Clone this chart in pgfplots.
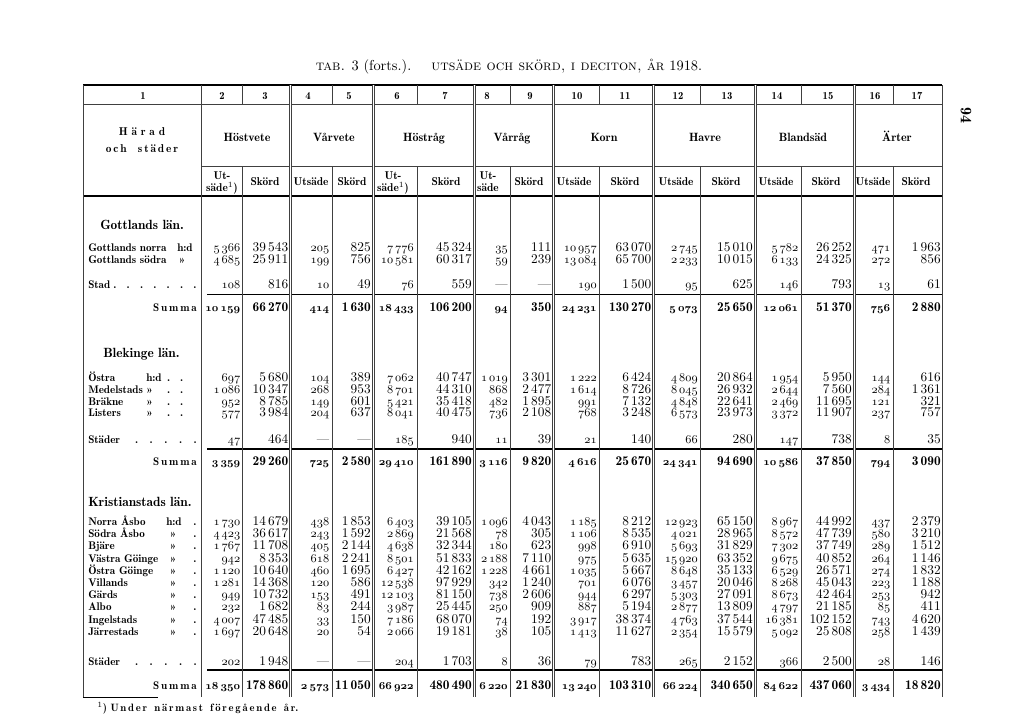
\documentclass[border=0pt]{standalone}
\usepackage{pgfplots}
\pgfplotsset{compat=1.18}
\usepackage{pgfplotstable}

% dotted leaders: total width, dot spacing
\newcommand\dts[2]{\hbox to #1{\leaders\hbox to #2{\hss.\hss}\hfill}}
\def\dashcell{—}
% old style figures in the current series, but keep the dash
\newcommand\myos[1]{{\fontencoding{OML}\fontfamily{cmm}\fontshape{it}\selectfont #1}}
\newcommand\osn{\begingroup\let\,\relax\edef\tmp{\pgfplotspointmeta}%
  \ifx\tmp\dashcell\endgroup—\else\endgroup\myos{\pgfplotspointmeta}\fi}

% y (baseline, px), then columns 2..17
\pgfplotstableread[col sep=comma]{
y,c2,c3,c4,c5,c6,c7,c8,c9,c10,c11,c12,c13,c14,c15,c16,c17
251.5,5\,366,39\,543,205,825,7\,776,45\,324,35,111,10\,957,63\,070,2\,745,15\,010,5\,782,26\,252,471,1\,963
263.5,4\,685,25\,911,199,756,10\,581,60\,317,59,239,13\,084,65\,700,2\,233,10\,015,6\,133,24\,325,272,856
288.5,108,816,10,49,76,559,—,—,190,1\,500,95,625,146,793,13,61
381.5,697,5\,680,104,389,7\,062,40\,747,1\,019,3\,301,1\,222,6\,424,4\,809,20\,864,1\,954,5\,950,144,616
393.5,1\,086,10\,347,268,953,8\,701,44\,310,868,2\,477,1\,614,8\,726,8\,045,26\,932,2\,644,7\,560,284,1\,361
405,952,8\,785,149,601,5\,421,35\,418,482,1\,895,991,7\,132,4\,848,22\,641,2\,469,11\,695,121,321
416.5,577,3\,984,204,637,8\,041,40\,475,736,2\,108,768,3\,248,6\,573,23\,973,3\,372,11\,907,237,757
443.5,47,464,—,—,185,940,11,39,21,140,66,280,147,738,8,35
525.5,1\,730,14\,679,438,1\,853,6\,403,39\,105,1\,096,4\,043,1\,185,8\,212,12\,923,65\,150,8\,967,44\,992,437,2\,379
537.7,4\,423,36\,617,243,1\,592,2\,869,21\,568,78,305,1\,106,8\,535,4\,021,28\,965,8\,572,47\,739,580,3\,210
549.9,1\,767,11\,708,405,2\,144,4\,638,32\,344,180,623,998,6\,910,5\,693,31\,829,7\,302,37\,749,289,1\,512
562.1,942,8\,353,618,2\,241,8\,501,51\,833,2\,188,7\,110,975,5\,635,15\,920,63\,352,9\,675,40\,852,264,1\,146
574.3,1\,120,10\,640,460,1\,695,6\,427,42\,162,1\,228,4\,661,1\,035,5\,667,8\,648,35\,133,6\,529,26\,571,274,1\,832
586.5,1\,281,14\,368,120,586,12\,538,97\,929,342,1\,240,701,6\,076,3\,457,20\,046,8\,268,45\,043,223,1\,188
598.7,949,10\,732,153,491,12\,103,81\,150,738,2\,606,944,6\,297,5\,303,27\,091,8\,673,42\,464,253,942
610.9,232,1\,682,83,244,3\,987,25\,445,250,909,887,5\,194,2\,877,13\,809,4\,797,21\,185,85,411
623.1,4\,007,47\,485,33,150,7\,186,68\,070,74,192,3\,917,38\,374,4\,763,37\,544,16\,381,102\,152,743,4\,620
635.3,1\,697,20\,648,20,54,2\,066,19\,181,38,105,1\,413,11\,627,2\,354,15\,579,5\,092,25\,808,258,1\,439
665,202,1\,948,—,—,204,1\,703,8,36,79,783,265,2\,152,366,2\,500,28,146
}\rows

\pgfplotstableread[col sep=comma]{
y,c2,c3,c4,c5,c6,c7,c8,c9,c10,c11,c12,c13,c14,c15,c16,c17
311,10\,159,66\,270,414,1\,630,18\,433,106\,200,94,350,24\,231,130\,270,5\,073,25\,650,12\,061,51\,370,756,2\,880
465,3\,359,29\,260,725,2\,580,29\,410,161\,890,3\,116,9\,820,4\,616,25\,670,24\,341,94\,690,10\,586,37\,850,794,3\,090
689,18\,350,178\,860,2\,573,11\,050,66\,922,480\,490,6\,220,21\,830,13\,240,103\,310,66\,224,340\,650,84\,622,437\,060,3\,434,18\,820
}\summa

\pgfplotsset{
  cell/.style={draw=none, mark=none, point meta=explicit symbolic},
  lin/.style={cell, nodes near coords={\pgfplotspointmeta},
    every node near coord/.append style={anchor=base east, inner sep=0pt, text=black,
      font=\fontsize{10}{11}\selectfont}},
  linb/.style={cell, nodes near coords={\pgfplotspointmeta},
    every node near coord/.append style={anchor=base east, inner sep=0pt, text=black,
      font=\fontsize{10}{11}\fontseries{b}\selectfont}},
  osf/.style={cell, nodes near coords={\osn},
    every node near coord/.append style={anchor=base east, inner sep=0pt, text=black,
      font=\fontsize{9}{10}\selectfont}},
  osfb/.style={cell, nodes near coords={\osn},
    every node near coord/.append style={anchor=base east, inner sep=0pt, text=black,
      font=\fontsize{8}{10}\fontseries{b}\selectfont}},
}
\newcommand\lcol[2]{%
  \addplot[lin] table[x expr=#2, y=y, meta=#1] {\rows};
  \addplot[linb] table[x expr=#2, y=y, meta=#1] {\summa};}
\newcommand\ocol[2]{%
  \addplot[osf] table[x expr=#2, y=y, meta=#1] {\rows};
  \addplot[osfb] table[x expr=#2, y=y, meta=#1] {\summa};}

\tikzset{
  lab/.style={anchor=base west, inner sep=0pt, font=\fontsize{8.3}{9}\fontseries{b}\selectfont},
  hd/.style={anchor=base, inner sep=0pt, font=\fontsize{8.5}{9.5}\fontseries{b}\selectfont},
  grp/.style={anchor=base, inner sep=0pt, font=\fontsize{9}{10}\fontseries{b}\selectfont},
  num/.style={anchor=base, inner sep=0pt, font=\fontsize{8}{9}\fontseries{b}\selectfont},
  vl/.style={black!75, line width=0.45pt},
  dl/.style={black!75, double, double distance=1.1pt, line width=0.4pt},
}

\begin{document}
\begin{tikzpicture}
\begin{axis}[
  width=767.25pt, height=536.25pt, scale only axis,
  xmin=0, xmax=1023, ymin=0, ymax=715, y dir=reverse,
  hide axis, clip=false,
]
\fill[white] (axis cs:0,0) rectangle (axis cs:1023,715);

% title and page number
\node[anchor=base, font=\fontsize{10.8}{12}\selectfont] at (axis cs:509,70)
  {\textsc{tab.} 3 (forts.).\hspace{1.4em}\textsc{utsäde och skörd, i deciton, år} 1918.};
\node[rotate=-90, font=\fontsize{12}{12}\fontseries{b}\selectfont] at (axis cs:966,115) {94};

% rules
\draw[line width=1.6pt] (axis cs:83,85) -- (axis cs:942,85);
\draw[vl] (axis cs:83,104) -- (axis cs:942,104);
\draw[vl] (axis cs:201,166) -- (axis cs:942,166);
\draw[line width=1.4pt] (axis cs:83,196) -- (axis cs:942,196);
\pgfplotsinvokeforeach{294.5,449,670}{\draw[line width=1.2pt] (axis cs:207,#1) -- (axis cs:942,#1);}
\pgfplotsinvokeforeach{83,201,942}{\draw[vl] (axis cs:#1,85) -- (axis cs:#1,697);}
\pgfplotsinvokeforeach{242.5,332,417,510,599,700,801,893}{%
  \draw[vl] (axis cs:#1,85) -- (axis cs:#1,104);
  \draw[vl] (axis cs:#1,166) -- (axis cs:#1,697);}
\pgfplotsinvokeforeach{290.5,373.5,474.5,553.5,653.5,755.5,854.5}{\draw[dl] (axis cs:#1,85) -- (axis cs:#1,697);}
\draw[line width=0.5pt] (axis cs:83,697) -- (axis cs:158,697);

% column numbers
\node[num] at (axis cs:143,99) {1};
\node[num] at (axis cs:222,99) {2};
\node[num] at (axis cs:265,99) {3};
\node[num] at (axis cs:308,99) {4};
\node[num] at (axis cs:349,99) {5};
\node[num] at (axis cs:397,99) {6};
\node[num] at (axis cs:445,99) {7};
\node[num] at (axis cs:487,99) {8};
\node[num] at (axis cs:530,99) {9};
\node[num] at (axis cs:577,99) {10};
\node[num] at (axis cs:625,99) {11};
\node[num] at (axis cs:678,99) {12};
\node[num] at (axis cs:727,99) {13};
\node[num] at (axis cs:777,99) {14};
\node[num] at (axis cs:828,99) {15};
\node[num] at (axis cs:875,99) {16};
\node[num] at (axis cs:917,99) {17};

% group heads
\node[font=\fontsize{8.5}{13}\fontseries{b}\selectfont, align=center, inner sep=0pt] at (axis cs:142,140)
  {H\,\,ä\,\,r\,\,a\,\,d\\o\,c\,h\quad s\,t\,ä\,d\,e\,r};
\node[grp] at (axis cs:247,141) {Höstvete};
\node[grp] at (axis cs:334,141) {Vårvete};
\node[grp] at (axis cs:424,141) {Höstråg};
\node[grp] at (axis cs:512,141) {Vårråg};
\node[grp] at (axis cs:604,141) {Korn};
\node[grp] at (axis cs:705,141) {Havre};
\node[grp] at (axis cs:803,141) {Blandsäd};
\node[grp] at (axis cs:897,141) {Ärter};

% sub heads
\node[hd] at (axis cs:222,179) {Ut-};
\node[hd] at (axis cs:222,191) {säde$^{1}$)};
\node[hd] at (axis cs:265,185) {Skörd};
\node[hd] at (axis cs:311,185) {Utsäde};
\node[hd] at (axis cs:352,185) {Skörd};
\node[hd] at (axis cs:393,179) {Ut-};
\node[hd] at (axis cs:393,191) {säde$^{1}$)};
\node[hd] at (axis cs:446,185) {Skörd};
\node[hd] at (axis cs:488,179) {Ut-};
\node[hd] at (axis cs:488,191) {säde};
\node[hd] at (axis cs:529,185) {Skörd};
\node[hd] at (axis cs:574,185) {Utsäde};
\node[hd] at (axis cs:625,185) {Skörd};
\node[hd] at (axis cs:676,185) {Utsäde};
\node[hd] at (axis cs:726,185) {Skörd};
\node[hd] at (axis cs:776,185) {Utsäde};
\node[hd] at (axis cs:826,185) {Skörd};
\node[hd] at (axis cs:873,185) {Utsäde};
\node[hd] at (axis cs:916,185) {Skörd};

% section heads
\node[lab, font=\fontsize{10}{12}\fontseries{b}\selectfont] at (axis cs:100,229) {Gottlands län.};
\node[lab, font=\fontsize{10}{12}\fontseries{b}\selectfont] at (axis cs:103,357) {Blekinge län.};
\node[lab, font=\fontsize{10}{12}\fontseries{b}\selectfont] at (axis cs:88,506) {Kristianstads län.};

% row labels
\node[lab] at (axis cs:88,251.5) {\makebox[66.75pt][l]{Gottlands norra}h:d};
\node[lab] at (axis cs:88,263.5) {\makebox[68pt][l]{Gottlands södra}»};
\node[lab] at (axis cs:88,288.5) {\makebox[15pt][l]{Stad}\dts{70pt}{10pt}};
\node[lab] at (axis cs:88,381.5) {\makebox[43.5pt][l]{Östra}\makebox[12pt][l]{h:d}\dts{29pt}{9.67pt}};
\node[lab] at (axis cs:88,393.5) {\makebox[43.5pt][l]{Medelstads}\makebox[12pt][l]{»}\dts{29pt}{9.67pt}};
\node[lab] at (axis cs:88,405) {\makebox[43.5pt][l]{Bräkne}\makebox[12pt][l]{»}\dts{29pt}{9.67pt}};
\node[lab] at (axis cs:88,416.5) {\makebox[43.5pt][l]{Listers}\makebox[12pt][l]{»}\dts{29pt}{9.67pt}};
\node[lab] at (axis cs:88,443.5) {\makebox[30.75pt][l]{Städer}\dts{55pt}{11pt}};
\node[lab] at (axis cs:88,525.5) {\makebox[58.5pt][l]{Norra Åsbo}\makebox[16.5pt][l]{h:d}\dts{10pt}{10pt}};
\node[lab] at (axis cs:88,537.7) {\makebox[58.5pt][l]{Södra Åsbo}\makebox[16.5pt][l]{\ »}\dts{10pt}{10pt}};
\node[lab] at (axis cs:88,549.9) {\makebox[58.5pt][l]{Bjäre}\makebox[16.5pt][l]{\ »}\dts{10pt}{10pt}};
\node[lab] at (axis cs:88,562.1) {\makebox[58.5pt][l]{Västra Göinge}\makebox[16.5pt][l]{\ »}\dts{10pt}{10pt}};
\node[lab] at (axis cs:88,574.3) {\makebox[58.5pt][l]{Östra Göinge}\makebox[16.5pt][l]{\ »}\dts{10pt}{10pt}};
\node[lab] at (axis cs:88,586.5) {\makebox[58.5pt][l]{Villands}\makebox[16.5pt][l]{\ »}\dts{10pt}{10pt}};
\node[lab] at (axis cs:88,598.7) {\makebox[58.5pt][l]{Gärds}\makebox[16.5pt][l]{\ »}\dts{10pt}{10pt}};
\node[lab] at (axis cs:88,610.9) {\makebox[58.5pt][l]{Albo}\makebox[16.5pt][l]{\ »}\dts{10pt}{10pt}};
\node[lab] at (axis cs:88,623.1) {\makebox[58.5pt][l]{Ingelstads}\makebox[16.5pt][l]{\ »}\dts{10pt}{10pt}};
\node[lab] at (axis cs:88,635.3) {\makebox[58.5pt][l]{Järrestads}\makebox[16.5pt][l]{\ »}\dts{10pt}{10pt}};
\node[lab] at (axis cs:88,665) {\makebox[30.75pt][l]{Städer}\dts{55pt}{11pt}};
\pgfplotsinvokeforeach{311,465,689}{\node[lab, anchor=base east] at (axis cs:197,#1) {S\,u\,m\,m\,a};}

% numbers
\ocol{c2}{240.5}
\lcol{c3}{288.5}
\ocol{c4}{329.5}
\lcol{c5}{371}
\ocol{c6}{414}
\lcol{c7}{472}
\ocol{c8}{508}
\lcol{c9}{551.5}
\ocol{c10}{597}
\lcol{c11}{651.5}
\ocol{c12}{698}
\lcol{c13}{753}
\ocol{c14}{798.5}
\lcol{c15}{852}
\ocol{c16}{890.5}
\lcol{c17}{941}

% footnote
\node[lab, font=\fontsize{8}{9}\fontseries{b}\selectfont] at (axis cs:97,711)
  {$^{1}$) U\,n\,d\,e\,r\ \ n\,ä\,r\,m\,a\,s\,t\ \ f\,ö\,r\,e\,g\,å\,e\,n\,d\,e\ \ å\,r.};
\end{axis}
\end{tikzpicture}
\end{document}
